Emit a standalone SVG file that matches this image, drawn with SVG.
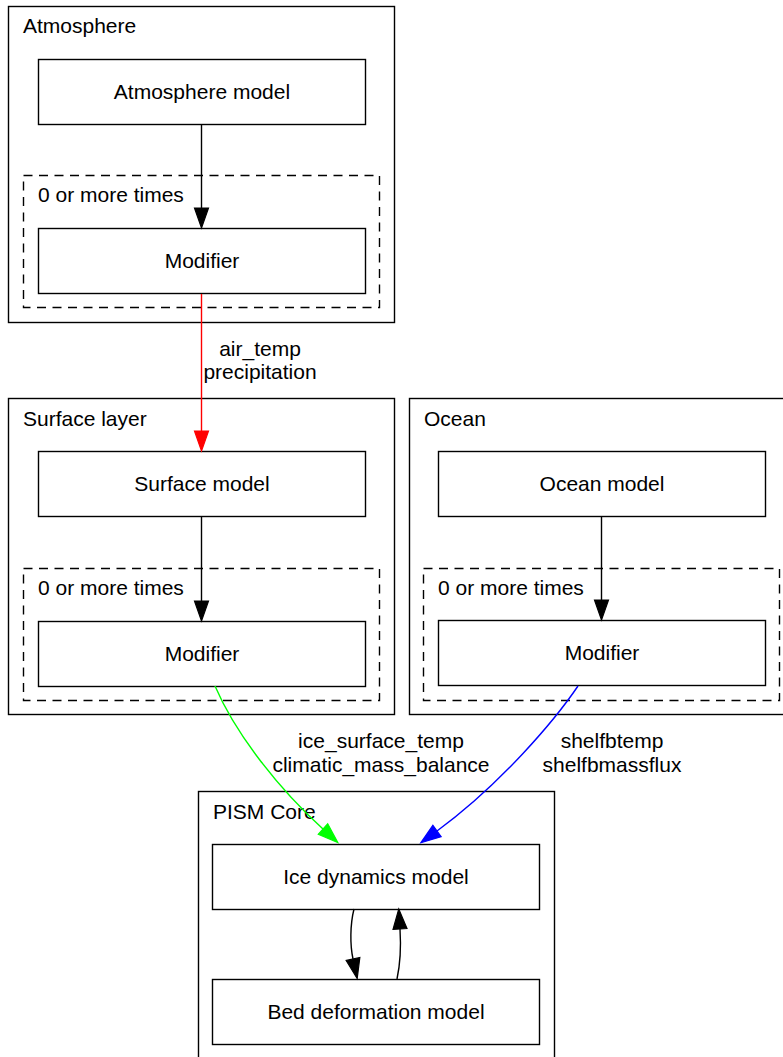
<svg xmlns="http://www.w3.org/2000/svg" width="783" height="1057" viewBox="0 0 783 1057">
<defs>
<style>
text{font-family:"Liberation Sans",Arial,sans-serif;font-size:21px;fill:#000}
.mid{text-anchor:middle}
.cl{fill:none;stroke:#000;stroke-width:1.4}
.dash{fill:none;stroke:#000;stroke-width:1.4;stroke-dasharray:9,6.5}
.node{fill:#fff;stroke:#000;stroke-width:1.4}
.e{fill:none;stroke-width:1.4}
</style>
<marker id="ab" markerUnits="userSpaceOnUse" markerWidth="22" markerHeight="16" refX="0" refY="7" orient="auto" overflow="visible"><path d="M0,0 L20,7 L0,14 z" fill="#000" stroke="#000" stroke-width="1.2"/></marker>
<marker id="ar" markerUnits="userSpaceOnUse" markerWidth="22" markerHeight="16" refX="0" refY="7" orient="auto" overflow="visible"><path d="M0,0 L20,7 L0,14 z" fill="#f00" stroke="#f00" stroke-width="1.2"/></marker>
<marker id="ag" markerUnits="userSpaceOnUse" markerWidth="22" markerHeight="16" refX="0" refY="7" orient="auto" overflow="visible"><path d="M0,0 L20,7 L0,14 z" fill="#0f0" stroke="#0f0" stroke-width="1.2"/></marker>
<marker id="au" markerUnits="userSpaceOnUse" markerWidth="22" markerHeight="16" refX="0" refY="7" orient="auto" overflow="visible"><path d="M0,0 L20,7 L0,14 z" fill="#00f" stroke="#00f" stroke-width="1.2"/></marker>
</defs>
<rect width="783" height="1057" fill="#fff"/>

<g id="cluster_atmosphere">
<rect class="cl" x="8.5" y="6.5" width="386" height="316"/>
<text x="23" y="33">Atmosphere</text>
<g id="cluster_atm_mod">
<rect class="dash" x="23.5" y="175.5" width="356" height="132"/>
<text x="38" y="202">0 or more times</text>
</g>
</g>
<g id="cluster_surface">
<rect class="cl" x="8.5" y="398.5" width="386" height="316"/>
<text x="23" y="426">Surface layer</text>
<g id="cluster_surf_mod">
<rect class="dash" x="23.5" y="568.5" width="356" height="132"/>
<text x="38" y="595">0 or more times</text>
</g>
</g>
<g id="cluster_ocean">
<rect class="cl" x="409.5" y="398.5" width="386" height="316"/>
<text x="424" y="426">Ocean</text>
<g id="cluster_ocean_mod">
<rect class="dash" x="423.5" y="568.5" width="356" height="132"/>
<text x="438" y="595">0 or more times</text>
</g>
</g>
<g id="cluster_core">
<rect class="cl" x="198.5" y="791.5" width="356" height="280"/>
<text x="213" y="819">PISM Core</text>
</g>

<g id="atm_model"><rect class="node" x="38.5" y="59.5" width="327" height="65"/><text class="mid" x="202" y="98.5">Atmosphere model</text></g>
<g id="atm_modifier"><rect class="node" x="38.5" y="228.5" width="327" height="65"/><text class="mid" x="202" y="267.5">Modifier</text></g>
<g id="surface_model"><rect class="node" x="38.5" y="451.5" width="327" height="65"/><text class="mid" x="202" y="491">Surface model</text></g>
<g id="surface_modifier"><rect class="node" x="38.5" y="621.5" width="327" height="65"/><text class="mid" x="202" y="660.5">Modifier</text></g>
<g id="ocean_model"><rect class="node" x="438.5" y="451.5" width="327" height="65"/><text class="mid" x="602" y="491">Ocean model</text></g>
<g id="ocean_modifier"><rect class="node" x="438.5" y="620.5" width="327" height="65"/><text class="mid" x="602" y="660">Modifier</text></g>
<g id="ice_dynamics"><rect class="node" x="212.5" y="844.5" width="327" height="65"/><text class="mid" x="376" y="883.5">Ice dynamics model</text></g>
<g id="bed_deformation"><rect class="node" x="212.5" y="979.5" width="327" height="65"/><text class="mid" x="376" y="1018.5">Bed deformation model</text></g>

<g id="connectors">
<path class="e" stroke="#000" d="M201.5,124 L201.5,208" marker-end="url(#ab)"/>
<path class="e" stroke="#f00" d="M201.5,294 L201.5,431" marker-end="url(#ar)"/>
<path class="e" stroke="#000" d="M201.5,517 L201.5,601" marker-end="url(#ab)"/>
<path class="e" stroke="#000" d="M601.5,517 L601.5,600" marker-end="url(#ab)"/>
<path class="e" stroke="#0f0" d="M215,686 C236,735 280,790 323,829" marker-end="url(#ag)"/>
<path class="e" stroke="#00f" d="M578,686 C555,720 500,785 437,831" marker-end="url(#au)"/>
<path class="e" stroke="#000" d="M354,909 C350,925 350,945 353,959" marker-end="url(#ab)"/>
<path class="e" stroke="#000" d="M397,979 C400,965 401,945 400,929" marker-end="url(#ab)"/>
<text class="mid" x="260" y="356">air_temp</text>
<text class="mid" x="260" y="379">precipitation</text>
<text class="mid" x="381" y="748">ice_surface_temp</text>
<text class="mid" x="381" y="772">climatic_mass_balance</text>
<text class="mid" x="612" y="748">shelfbtemp</text>
<text class="mid" x="612" y="772">shelfbmassflux</text>
</g>
</svg>
